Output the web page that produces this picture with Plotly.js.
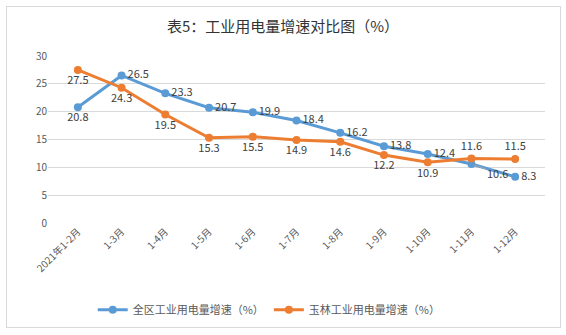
<!DOCTYPE html>
<html>
<head>
<meta charset="utf-8">
<script src="https://cdn.plot.ly/plotly-3.0.1.min.js"></script>
<style>
  body { margin: 0; background: #fff; }
  #chart { position: absolute; left: 0; top: 0; width: 566px; height: 335px; }
  #frame { position: absolute; left: 6px; top: 6px; width: 553px; height: 320px; border: 1px solid #d9d9d9; pointer-events: none; }
</style>
</head>
<body>
<div id="chart"></div>
<div id="frame"></div>
<script>
// 月份
const months = ['2021年1-2月', '1-3月', '1-4月', '1-5月', '1-6月', '1-7月', '1-8月', '1-9月', '1-10月', '1-11月', '1-12月'];
// 全区工业用电量增速（%）
const regionGrowth = [20.8, 26.5, 23.3, 20.7, 19.9, 18.4, 16.2, 13.8, 12.4, 10.6, 8.3];
// 玉林工业用电量增速（%）
const yulinGrowth = [27.5, 24.3, 19.5, 15.3, 15.5, 14.9, 14.6, 12.2, 10.9, 11.6, 11.5];

const blue = '#5B9BD5';
const orange = '#ED7D31';
const font = '"Noto Sans CJK SC", "Microsoft YaHei", sans-serif';

// 1-11月 蓝线标签用引导线单独画
const blueText = regionGrowth.map((v, i) => i === 9 ? '' : v.toFixed(1));
const bluePos = regionGrowth.map((v, i) => i === 0 ? 'bottom center' : 'middle right');
const orangePos = yulinGrowth.map((v, i) => i >= 9 ? 'top center' : 'bottom center');

const traces = [
    {
        x: months,
        y: regionGrowth,
        name: '全区工业用电量增速（%）',
        type: 'scatter',
        mode: 'lines+markers+text',
        line: { color: blue, width: 3 },
        marker: { color: blue, size: 8 },
        text: blueText,
        textposition: bluePos,
        textfont: { family: font, size: 11, color: '#404040' },
        cliponaxis: false
    },
    {
        x: months,
        y: yulinGrowth,
        name: '玉林工业用电量增速（%）',
        type: 'scatter',
        mode: 'lines+markers+text',
        line: { color: orange, width: 3 },
        marker: { color: orange, size: 8 },
        text: yulinGrowth.map(v => v.toFixed(1)),
        textposition: orangePos,
        textfont: { family: font, size: 11, color: '#404040' },
        cliponaxis: false
    }
];

const layout = {
    width: 566,
    height: 335,
    paper_bgcolor: '#fff',
    plot_bgcolor: '#fff',
    margin: { l: 48, r: 21, t: 56, b: 111 },
    font: { family: font, color: '#595959' },
    title: {
        text: '表5：工业用电量增速对比图（%）',
        font: { family: font, size: 15, color: '#333' },
        x: 0.5, xanchor: 'center',
        y: 0.92, yanchor: 'middle'
    },
    xaxis: {
        type: 'category',
        tickangle: -45,
        tickfont: { size: 10, color: '#595959' },
        showgrid: false,
        showline: false,
        zeroline: false,
        ticks: ''
    },
    yaxis: {
        range: [0, 30],
        dtick: 5,
        tickfont: { size: 10, color: '#595959' },
        gridcolor: '#d9d9d9',
        zeroline: false,
        showline: false,
        ticks: '',
        ticklen: 0
    },
    legend: {
        orientation: 'h',
        x: 0.09, xanchor: 'left',
        y: -0.51, yanchor: 'middle',
        font: { size: 11, color: '#595959' }
    },
    annotations: [
        {
            x: months[9],
            y: regionGrowth[9],
            text: regionGrowth[9].toFixed(1),
            showarrow: true,
            arrowhead: 0,
            arrowwidth: 1,
            arrowcolor: '#a6a6a6',
            ax: 26,
            ay: 9,
            standoff: 3,
            font: { family: font, size: 11, color: '#404040' }
        }
    ]
};

Plotly.newPlot('chart', traces, layout, { displayModeBar: false, responsive: false });
</script>
</body>
</html>
